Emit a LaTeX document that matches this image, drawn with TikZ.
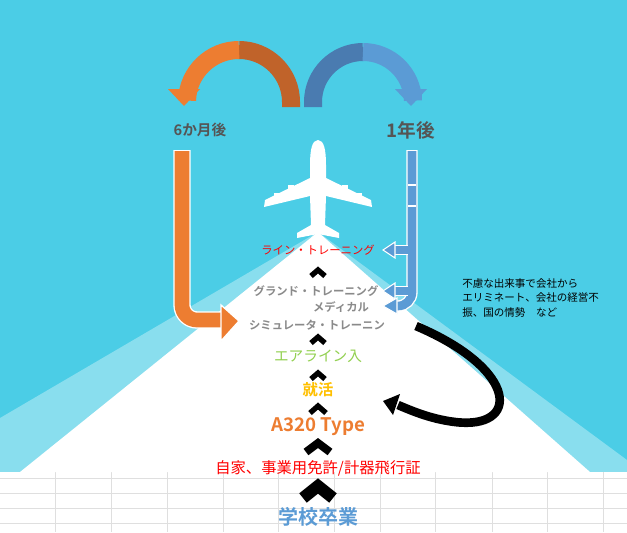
\documentclass[tikz,border=0pt]{standalone}
\usepackage{fontspec}
\setmainfont{Noto Sans CJK JP}
\newfontfamily\jpb{Noto Sans CJK JP Bold}
\usetikzlibrary{arrows.meta}
\definecolor{sky}{HTML}{4BCDE6}
\definecolor{org}{HTML}{ED7D31}
\definecolor{orgd}{HTML}{C0632A}
\definecolor{blu}{HTML}{5B9BD5}
\definecolor{blud}{HTML}{4A7BB0}
\definecolor{grayt}{HTML}{555555}
\definecolor{grayl}{HTML}{8A8A8A}
\definecolor{grn}{HTML}{92D050}
\definecolor{gold}{HTML}{FFC000}
\tikzset{
 chev/.style={line width=4pt, black, line join=miter},
 lbl/.style={inner sep=0pt},
}
\begin{document}
\begin{tikzpicture}[x=0.75pt,y=-0.75pt]
\useasboundingbox (0,0) rectangle (627,532);
% background
\fill[sky] (0,0) rectangle (627,472);
\fill[white] (0,472) rectangle (627,532);
\foreach \x in {55,111,167,223,278,334,380,435,492,547,603}
  \draw[gray!25,line width=0.6pt] (\x,472) -- (\x,532);
\foreach \y in {478,493,508,523}
  \draw[gray!25,line width=0.6pt] (0,\y) -- (627,\y);
% contrail
\fill[white,opacity=0.35] (318,232) -- (0,418) -- (0,472) -- (60,472) -- cycle;
\fill[white,opacity=0.35] (318,232) -- (540,472) -- (627,472) -- (627,460) -- cycle;
\fill[white] (318,232) -- (20,472) -- (590,472) -- cycle;
% airplane
\fill[white] (318,140) .. controls (312,140) and (310,150) .. (310,165)
 -- (310,178) -- (265,200) -- (264,207) -- (310,196)
 -- (311,225) -- (297,233) -- (297,238) -- (318,234)
 -- (339,238) -- (339,233) -- (325,225) -- (326,196) -- (372,207) -- (371,200)
 -- (326,178) -- (326,165) .. controls (326,150) and (324,140) .. (318,140) -- cycle;
\fill[white] (288,185) rectangle (294,197);
\fill[white] (342,185) rectangle (348,197);
\fill[white] (274,193) rectangle (279,203);
\fill[white] (357,193) rectangle (362,203);
% orange U arrow
\draw[orgd,line width=13.5pt] (291,107) -- (291,102) arc (0:-90:52);
\draw[org,line width=13.5pt] (239,50) arc (-90:-178:52) -- (187,90);
\fill[org] (168,89) -- (200,89) -- (184,106) -- cycle;
% blue U arrow
\draw[blud,line width=13.5pt] (313,107) -- (313,102) arc (180:270:50);
\draw[blu,line width=13.5pt] (363,52) arc (270:358:50) -- (413,90);
\fill[blu] (395,89) -- (427,89) -- (411,106) -- cycle;
% labels
\node[lbl,text=grayt] (six) at (200,130) {\jpb\fontsize{11}{13}\selectfont 6か月後};
\node[lbl,text=grayt] (one) at (411,130) {\jpb\fontsize{14}{16}\selectfont 1年後};
% orange L arrow
\draw[white,line width=13pt,line join=round] (182,150) -- (182,305) arc (180:90:15) -- (224,320);
\draw[org,line width=11pt,line join=round] (182,151) -- (182,305) arc (180:90:15) -- (224,320);
\draw[white,line width=1pt,fill=org] (221,305) -- (239,321) -- (221,341) -- cycle;
% blue vertical bar with branches
\draw[white,line width=8.5pt] (412,150) -- (412,292) arc (0:90:14) -- (396,306);
\draw[blu,line width=6.5pt] (412,151) -- (412,292) arc (0:90:14) -- (396,306);
\draw[white,line width=0.8pt] (408,185) -- (416,185) (408,206) -- (416,206);
\foreach \yy in {250,291}{
  \draw[white,line width=8pt] (408,\yy) -- (393,\yy);
  \draw[blu,line width=6pt] (409,\yy) -- (393,\yy);
  \draw[white,line width=0.8pt,fill=blu] (395,\yy-8) -- (383,\yy) -- (395,\yy+8) -- cycle;
}
\draw[white,line width=0.8pt,fill=blu] (397,298) -- (383,306) -- (397,314) -- cycle;
% texts
\node[lbl,text=red] (line) at (318,250) {\fontsize{8.5}{10}\selectfont ライン・トレーニング};
\node[lbl,text=grayl] (ground) at (316,291) {\jpb\fontsize{8.5}{10}\selectfont グランド・トレーニング};
\node[lbl,text=grayl] (med) at (341,307) {\jpb\fontsize{8.5}{10}\selectfont メディカル};
\node[lbl,text=grayl] (sim) at (317,325) {\jpb\fontsize{8.5}{10}\selectfont シミュレータ・トレーニン};
\node[lbl,text=grn] (air) at (318,356) {\fontsize{11}{13}\selectfont エアライン入};
\node[lbl,text=gold] (job) at (318,390) {\jpb\fontsize{11.5}{13}\selectfont 就活};
\node[lbl,text=org] (a320) at (318,427) {\jpb\fontsize{14}{16}\selectfont A320 Type};
\node[lbl,text=red] (lic) at (318,468) {\fontsize{11.5}{13}\selectfont 自家、事業用免許/計器飛行証};
\node[lbl,text=blu] (grad) at (318,517) {\jpb\fontsize{15}{17}\selectfont 学校卒業};
\node[lbl,align=left,anchor=north west,font=\fontsize{7.9}{11}\selectfont] (note) at (462,278) {不慮な出来事で会社から\\エリミネート、会社の経営不\\振、国の情勢　など};
% chevrons
\draw[chev] (311,276) -- (318,270) -- (325,276);
\draw[chev] (311,343) -- (318,337) -- (325,343);
\draw[chev] (311,379) -- (318,373) -- (325,379);
\draw[chev] (310,413) -- (318,406) -- (326,413);
\draw[chev,line width=6pt] (306,452) -- (318,443) -- (330,452);
\draw[chev,line width=9pt] (303,498) -- (318,486) -- (333,498);
% black curved arrow
\draw[black,line width=6.5pt] (416,326) .. controls (520,370) and (520,430) .. (455,422)
  .. controls (430,419) and (410,410) .. (398,405);
\fill[black] (400,394) -- (383,401) -- (393,415) -- cycle;
\end{tikzpicture}
\end{document}
